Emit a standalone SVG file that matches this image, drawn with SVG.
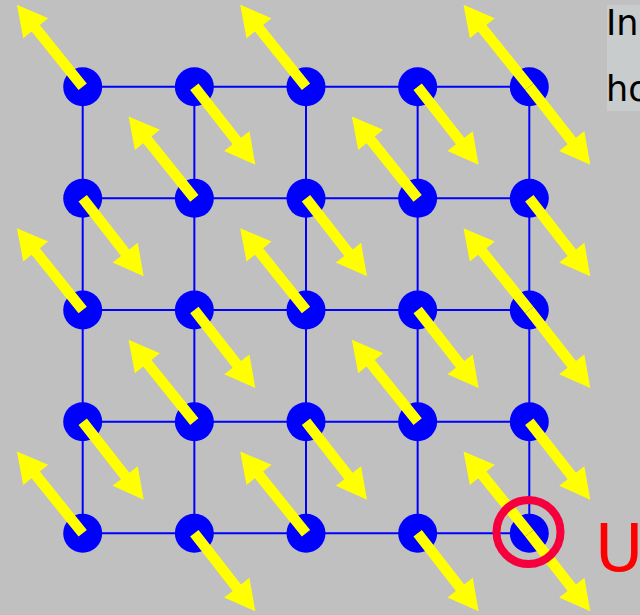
<svg xmlns="http://www.w3.org/2000/svg" width="640" height="615" viewBox="0 0 640 615" xmlns:xlink="http://www.w3.org/1999/xlink">
<style>
.node{fill:#0000ff}
.grid{stroke:#0000ff;stroke-width:2;fill:none}
.arr{fill:#ffff00}
.lbl{font-family:"DejaVu Sans",sans-serif;fill:#000}
</style>
<defs>
<path id="dr" class="arr" d="M0,-5.3 L69,-5.3 L69,-16 L99,0 L69,16 L69,5.3 L0,5.3 Z"/>
<path id="ul" class="arr" d="M0,-5.3 L75,-5.3 L75,-16 L105,0 L75,16 L75,5.3 L0,5.3 Z"/>
</defs>
<rect width="640" height="615" fill="#c0c0c0"/>
<rect x="607" y="5" width="33" height="106" fill="#c8cccc"/>
<text class="lbl" x="606" y="35" font-size="35">In</text>
<text class="lbl" x="606" y="101" font-size="35">ho</text>
<g id="connectors" class="grid">
<path d="M82.7,86.7H529.3M82.7,198.35H529.3M82.7,310H529.3M82.7,421.65H529.3M82.7,533.3H529.3"/>
<path d="M82.7,86.7V533.3M194.35,86.7V533.3M306,86.7V533.3M417.65,86.7V533.3M529.3,86.7V533.3"/>
</g>
<g id="nodes" class="node">
<g id="n00"><circle cx="82.7" cy="86.7" r="19.5"/></g>
<g id="n01"><circle cx="194.35" cy="86.7" r="19.5"/></g>
<g id="n02"><circle cx="306" cy="86.7" r="19.5"/></g>
<g id="n03"><circle cx="417.65" cy="86.7" r="19.5"/></g>
<g id="n04"><circle cx="529.3" cy="86.7" r="19.5"/></g>
<g id="n10"><circle cx="82.7" cy="198.35" r="19.5"/></g>
<g id="n11"><circle cx="194.35" cy="198.35" r="19.5"/></g>
<g id="n12"><circle cx="306" cy="198.35" r="19.5"/></g>
<g id="n13"><circle cx="417.65" cy="198.35" r="19.5"/></g>
<g id="n14"><circle cx="529.3" cy="198.35" r="19.5"/></g>
<g id="n20"><circle cx="82.7" cy="310" r="19.5"/></g>
<g id="n21"><circle cx="194.35" cy="310" r="19.5"/></g>
<g id="n22"><circle cx="306" cy="310" r="19.5"/></g>
<g id="n23"><circle cx="417.65" cy="310" r="19.5"/></g>
<g id="n24"><circle cx="529.3" cy="310" r="19.5"/></g>
<g id="n30"><circle cx="82.7" cy="421.65" r="19.5"/></g>
<g id="n31"><circle cx="194.35" cy="421.65" r="19.5"/></g>
<g id="n32"><circle cx="306" cy="421.65" r="19.5"/></g>
<g id="n33"><circle cx="417.65" cy="421.65" r="19.5"/></g>
<g id="n34"><circle cx="529.3" cy="421.65" r="19.5"/></g>
<g id="n40"><circle cx="82.7" cy="533.3" r="19.5"/></g>
<g id="n41"><circle cx="194.35" cy="533.3" r="19.5"/></g>
<g id="n42"><circle cx="306" cy="533.3" r="19.5"/></g>
<g id="n43"><circle cx="417.65" cy="533.3" r="19.5"/></g>
<g id="n44"><circle cx="529.3" cy="533.3" r="19.5"/></g>
</g>
<g id="spins">
<use href="#ul" transform="translate(82.7,86.7) rotate(231.2)"/>
<use href="#dr" transform="translate(194.35,86.7) rotate(52)"/>
<use href="#ul" transform="translate(306,86.7) rotate(231.2)"/>
<use href="#dr" transform="translate(417.65,86.7) rotate(52)"/>
<use href="#ul" transform="translate(529.3,86.7) rotate(231.2)"/>
<use href="#dr" transform="translate(529.3,86.7) rotate(52)"/>

<use href="#dr" transform="translate(82.7,198.35) rotate(52)"/>
<use href="#ul" transform="translate(194.35,198.35) rotate(231.2)"/>
<use href="#dr" transform="translate(306,198.35) rotate(52)"/>
<use href="#ul" transform="translate(417.65,198.35) rotate(231.2)"/>
<use href="#dr" transform="translate(529.3,198.35) rotate(52)"/>

<use href="#ul" transform="translate(82.7,310) rotate(231.2)"/>
<use href="#dr" transform="translate(194.35,310) rotate(52)"/>
<use href="#ul" transform="translate(306,310) rotate(231.2)"/>
<use href="#dr" transform="translate(417.65,310) rotate(52)"/>
<use href="#ul" transform="translate(529.3,310) rotate(231.2)"/>
<use href="#dr" transform="translate(529.3,310) rotate(52)"/>

<use href="#dr" transform="translate(82.7,421.65) rotate(52)"/>
<use href="#ul" transform="translate(194.35,421.65) rotate(231.2)"/>
<use href="#dr" transform="translate(306,421.65) rotate(52)"/>
<use href="#ul" transform="translate(417.65,421.65) rotate(231.2)"/>
<use href="#dr" transform="translate(529.3,421.65) rotate(52)"/>

<use href="#ul" transform="translate(82.7,533.3) rotate(231.2)"/>
<use href="#dr" transform="translate(194.35,533.3) rotate(52)"/>
<use href="#ul" transform="translate(306,533.3) rotate(231.2)"/>
<use href="#dr" transform="translate(417.65,533.3) rotate(52)"/>
<use href="#ul" transform="translate(529.3,533.3) rotate(231.2)"/>
<use href="#dr" transform="translate(529.3,533.3) rotate(52)"/>
</g>
<g id="highlight">
<circle cx="528.5" cy="532" r="32" fill="none" stroke="#f5003c" stroke-width="8"/>
<text x="595" y="571" font-family="DejaVu Sans, sans-serif" font-size="66" fill="#ff0000">U</text>
</g>
</svg>
